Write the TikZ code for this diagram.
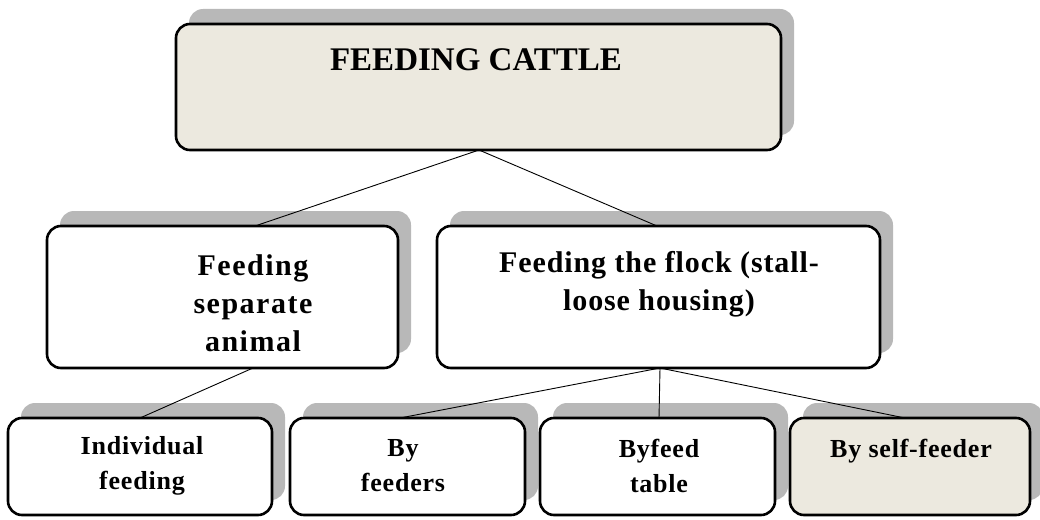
\documentclass[tikz,border=0pt]{standalone}
\usepackage{fontspec}
\setmainfont{Liberation Serif}
\usetikzlibrary{shadows}
\definecolor{beige}{HTML}{ECE9DF}
\definecolor{shade}{HTML}{B8B8B8}
\tikzset{
  box/.style={draw=black, line width=2.6pt, rounded corners=14pt, fill=white,
    general shadow={fill=shade, shadow xshift=13pt, shadow yshift=15pt}, inner sep=0pt},
  lbl/.style={font=\bfseries, align=center, text=black},
  conn/.style={draw=black, line width=0.9pt}
}
\begin{document}
\begin{tikzpicture}[x=1pt,y=-1pt]
\useasboundingbox (0,0) rectangle (1040,519);
% boxes
\node[box, fill=beige, minimum width=605pt, minimum height=126pt] (top) at (478.5,87) {};
\node[box, minimum width=351pt, minimum height=142pt] (sep) at (222.5,297) {};
\node[box, minimum width=443pt, minimum height=142pt] (flock) at (658.5,297) {};
\node[box, minimum width=264pt, minimum height=97pt] (ind) at (140,466.5) {};
\node[box, minimum width=235pt, minimum height=97pt] (feeders) at (407.5,466.5) {};
\node[box, minimum width=235pt, minimum height=97pt] (table) at (657.5,466.5) {};
\node[box, fill=beige, minimum width=240pt, minimum height=97pt] (self) at (910,466.5) {};
% texts
\node[lbl, font=\bfseries\fontsize{33}{38}\selectfont] (ttop) at (476,60) {FEEDING CATTLE};
\node[lbl, font=\bfseries\fontsize{30}{38}\selectfont\addfontfeature{LetterSpace=5}] (tsep) at (253,303) {Feeding\\separate\\animal};
\node[lbl, font=\bfseries\fontsize{30}{38}\selectfont\addfontfeature{LetterSpace=3}] (tflock) at (659,284) {Feeding the flock (stall-\\loose housing)};
\node[lbl, font=\bfseries\fontsize{26}{35}\selectfont\addfontfeature{LetterSpace=3}] (tind) at (142,466) {Individual\\feeding};
\node[lbl, font=\bfseries\fontsize{26}{35}\selectfont\addfontfeature{LetterSpace=3}] (tfeeders) at (403,466) {By\\feeders};
\node[lbl, font=\bfseries\fontsize{26}{35}\selectfont\addfontfeature{LetterSpace=3}] (ttable) at (659,466) {Byfeed\\table};
\node[lbl, font=\bfseries\fontsize{26}{35}\selectfont\addfontfeature{LetterSpace=3}] (tself) at (911,451) {By self-feeder};
% connectors
\coordinate (topb) at (479,150);
\draw[conn] (topb) -- (255,226);
\draw[conn] (topb) -- (657,226);
\draw[conn] (253,368) -- (140,418);
\coordinate (flb) at (660,368);
\draw[conn] (flb) -- (400,418);
\draw[conn] (flb) -- (659,418);
\draw[conn] (flb) -- (905,418);
\end{tikzpicture}
\end{document}
